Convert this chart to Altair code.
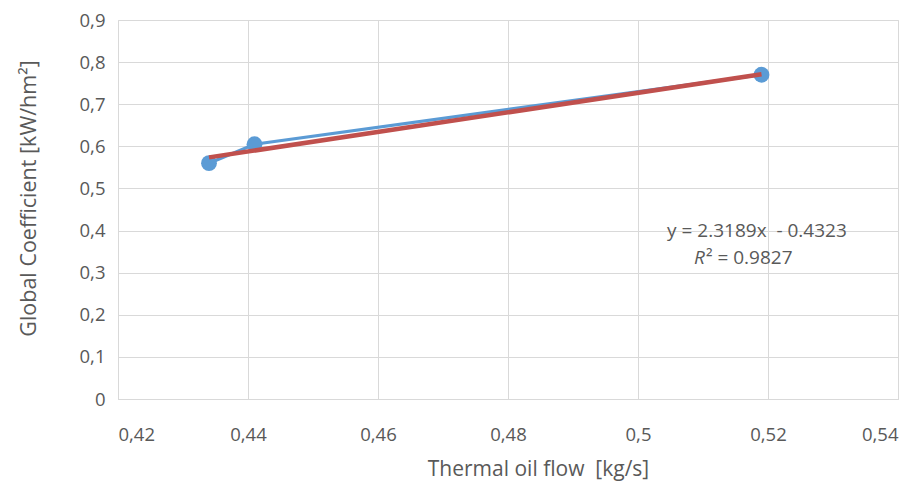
import altair as alt
import pandas as pd

flow = [0.434, 0.441, 0.519]
coef = [0.56, 0.605, 0.77]
x_ticks = [0.42, 0.44, 0.46, 0.48, 0.50, 0.52, 0.54]
y_ticks = [0, 0.1, 0.2, 0.3, 0.4, 0.5, 0.6, 0.7, 0.8, 0.9]
eq_text = ["y = 2.3189x\u00a0\u00a0- 0.4323"]
eq_pos = [(0.5183, 0.399)]
r2_pos = [(0.5086, 0.335)]

df = pd.DataFrame({"flow": flow, "coef": coef})
FONT = "Open Sans"
GREY = "#595959"

xs = alt.Scale(domain=[0.42, 0.54], nice=False, zero=False)
ys = alt.Scale(domain=[0, 0.9], nice=False)

xax = alt.Axis(values=x_ticks, labelExpr="replace(format(datum.value, '.2~f'), '.', ',')",
               title="Thermal oil flow\u00a0\u00a0[kg/s]", grid=True, gridColor="#d9d9d9", ticks=False,
               domain=True, domainColor="#d9d9d9", labelPadding=26,
               titleX=420, titleY=70, titleBaseline="middle", titleAnchor="middle",
               labelFontSize=18.5, titleFontSize=21, labelColor=GREY, titleColor=GREY,
               labelFont=FONT, titleFont=FONT, titleFontWeight="normal")
yax = alt.Axis(values=y_ticks, labelExpr="replace(format(datum.value, '.1~f'), '.', ',')",
               title="Global Coefficient [kW/hm²]", grid=True, gridColor="#d9d9d9", ticks=False,
               domain=False, labelPadding=13,
               titleX=-89, titleY=178, titleAngle=270, titleBaseline="middle", titleAnchor="middle",
               labelFontSize=18.5, titleFontSize=21.5, labelColor=GREY, titleColor=GREY,
               labelFont=FONT, titleFont=FONT, titleFontWeight="normal")

base = alt.Chart(df)
line = base.mark_line(color="#5B9BD5", strokeWidth=3.2).encode(
    x=alt.X("flow:Q", scale=xs, axis=xax), y=alt.Y("coef:Q", scale=ys, axis=yax))
pts = base.mark_circle(color="#5B9BD5", size=250, opacity=1).encode(
    x=alt.X("flow:Q", scale=xs), y=alt.Y("coef:Q", scale=ys))
trend = base.transform_regression("flow", "coef", method="linear").mark_line(
    color="#C0504D", strokeWidth=4.5).encode(
    x=alt.X("flow:Q", scale=xs), y=alt.Y("coef:Q", scale=ys))

eq_df = pd.DataFrame({"x": [p[0] for p in eq_pos], "y": [p[1] for p in eq_pos], "t": eq_text})
eq = alt.Chart(eq_df).mark_text(font=FONT, fontSize=19, color=GREY, align="center").encode(
    x=alt.X("x:Q", scale=xs), y=alt.Y("y:Q", scale=ys), text="t:N")

r_df = pd.DataFrame({"x": [r2_pos[0][0]], "y": [r2_pos[0][1]], "t": ["R"]})
r_mark = alt.Chart(r_df).mark_text(font=FONT, fontSize=19, color=GREY, align="left", fontStyle="italic").encode(
    x=alt.X("x:Q", scale=xs), y=alt.Y("y:Q", scale=ys), text="t:N")
r2_df = pd.DataFrame({"x": [r2_pos[0][0]], "y": [r2_pos[0][1]], "t": ["² = 0.9827"]})
r2_mark = alt.Chart(r2_df).mark_text(font=FONT, fontSize=19, color=GREY, align="left", dx=12).encode(
    x=alt.X("x:Q", scale=xs), y=alt.Y("y:Q", scale=ys), text="t:N")

chart = alt.layer(line, pts, trend, eq, r_mark, r2_mark).properties(
    width=780, height=379, autosize="none",
    padding={"left": 110, "top": 12, "right": 13, "bottom": 87}
).configure_view(stroke=None).configure(background="white")

chart.save("out.html", embed_options={"renderer": "svg", "actions": False})
